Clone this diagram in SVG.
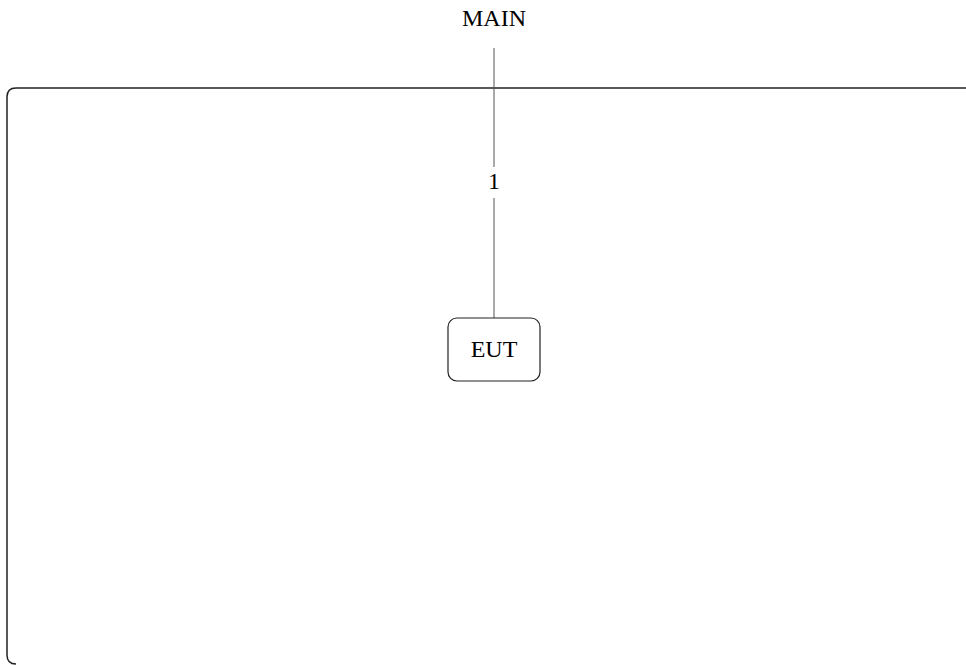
<svg xmlns="http://www.w3.org/2000/svg" width="966" height="666" viewBox="0 0 966 666">
<style>
text{font-family:"Liberation Serif","Times New Roman",serif;font-size:24px;fill:#000;text-anchor:middle}
.frame{fill:none;stroke:#222;stroke-width:1.5}
.node{fill:#fff;stroke:#222;stroke-width:1.2}
.conn{stroke:#555;stroke-width:1;fill:none}
</style>
<rect width="966" height="666" fill="#fff"/>
<g id="frame"><path class="frame" d="M966 88 H16 Q7 88 7 97 V655 Q7 664 16 664"/></g>
<g id="connectors">
<line class="conn" x1="494" y1="48" x2="494" y2="167"/>
<line class="conn" x1="494" y1="198" x2="494" y2="318"/>
<text x="494" y="189">1</text>
</g>
<g id="main"><text x="494" y="26">MAIN</text></g>
<g id="eut">
<rect class="node" x="448" y="318" width="92" height="63" rx="9"/>
<text x="494" y="357">EUT</text>
</g>
</svg>
